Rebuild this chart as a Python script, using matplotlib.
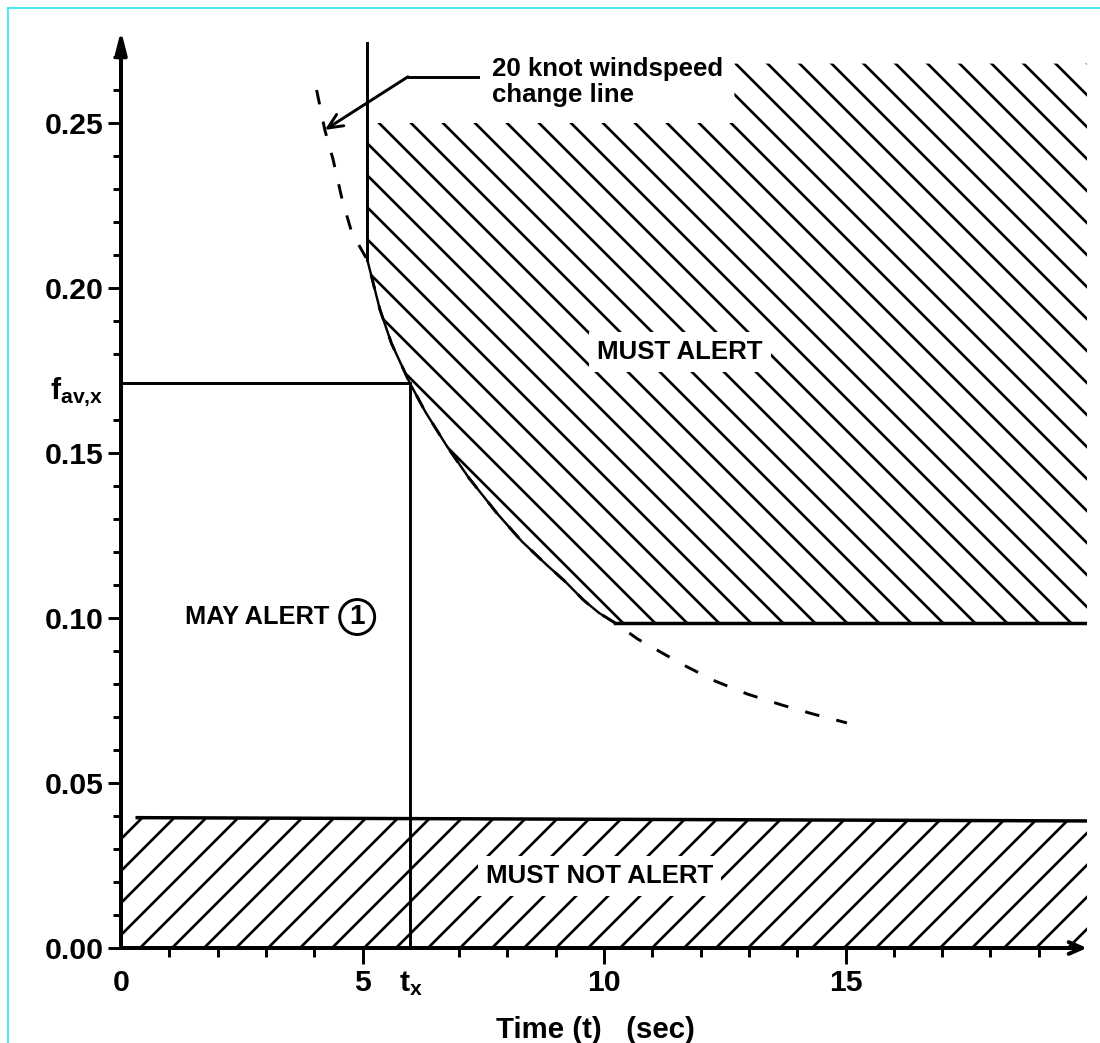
import matplotlib
matplotlib.use("Agg")
import matplotlib.pyplot as plt
from matplotlib.patches import Polygon
from matplotlib.lines import Line2D
from matplotlib.ticker import FixedLocator

# ---------------- data ----------------
x_max = 20.0
y_max = 0.278

# x ticks
x_major = [0, 5, 6, 10, 15]
x_major_labels = ["0", "5", r"$\mathrm{t}_{\mathrm{x}}$", "10", "15"]
x_minor = [1, 2, 3, 4, 6, 7, 8, 9, 11, 12, 13, 14, 16, 17, 18, 19]

# y ticks
y_major = [0.00, 0.05, 0.10, 0.15, 0.17, 0.20, 0.25]
y_major_labels = ["0.00", "0.05", "0.10", "0.15", r"$\mathrm{f}_{\mathrm{av{,}x}}$", "0.20", "0.25"]
y_minor = [0.01, 0.02, 0.03, 0.04, 0.06, 0.07, 0.08, 0.09, 0.11, 0.12, 0.13, 0.14,
           0.16, 0.17, 0.18, 0.19, 0.21, 0.22, 0.23, 0.24, 0.26, 0.27]

# chosen example point
t_x = 5.98
f_avx = 0.1712

# must-alert lower boundary (curve then flat)
ma_curve_t = [5.10, 5.36, 5.60, 5.98, 6.30, 6.75, 7.20, 7.78, 8.30, 8.82, 9.20, 9.57, 9.90, 10.23]
ma_curve_f = [0.2085, 0.1935, 0.1832, 0.1712, 0.1625, 0.1520, 0.1425, 0.1318, 0.1232, 0.1160,
              0.1110, 0.1055, 0.1015, 0.0985]
ma_flat_t = [10.23, 20.0]
ma_flat_f = [0.0985, 0.0985]
ma_vert_t = [5.10, 5.10]
ma_vert_f = [0.2085, 0.2742]
# top of the hatched must-alert area
ma_top_t = [5.10, 12.7, 12.7, 20.0]
ma_top_f = [0.250, 0.250, 0.268, 0.268]

# 20 knot windspeed change line (dashed)
ws_t = [4.05, 4.22, 4.39, 4.58, 4.78, 5.10, 5.36, 5.60, 5.98, 6.30, 6.75, 7.20, 7.78, 8.30,
        8.82, 9.20, 9.57, 9.90, 10.23, 10.70, 11.64, 12.30, 12.96, 13.69, 14.33, 15.03]
ws_f = [0.2600, 0.2479, 0.2390, 0.2267, 0.2167, 0.2085, 0.1935, 0.1832, 0.1712, 0.1625,
        0.1520, 0.1425, 0.1318, 0.1232, 0.1160, 0.1110, 0.1055, 0.1015, 0.0985, 0.0936,
        0.0858, 0.0809, 0.0770, 0.0736, 0.0709, 0.0682]

# must-not-alert band
nal_t = [0.0, 0.3, 20.0]
nal_top = [0.036, 0.0395, 0.0385]

# annotation leader for the windspeed line
lead_t = [7.39, 5.94, 4.22]
lead_f = [0.2640, 0.2640, 0.2479]

# ---------------- style ----------------
DPI = 192
plt.rcParams["font.family"] = ["Liberation Sans", "DejaVu Sans"]
plt.rcParams["font.weight"] = "bold"
plt.rcParams["hatch.linewidth"] = 1.0
plt.rcParams["mathtext.fontset"] = "custom"
plt.rcParams["mathtext.rm"] = "Liberation Sans:bold"
plt.rcParams["mathtext.it"] = "Liberation Sans:bold"
plt.rcParams["mathtext.bf"] = "Liberation Sans:bold"

W, H = 1100, 1043
fig = plt.figure(figsize=(W / DPI, H / DPI), dpi=DPI)
fig.patch.set_facecolor("white")
x0_px, y0_px = 121, 948
ax = fig.add_axes([x0_px / W, (H - y0_px) / H, 966 / W, (y_max * 3300) / H])
ax.set_xlim(0, x_max)
ax.set_ylim(0, y_max)
for s in ax.spines.values():
    s.set_visible(False)
ax.patch.set_alpha(0)

# axes with arrows
ax.annotate("", xy=(0, y_max), xytext=(0, 0),
            arrowprops=dict(arrowstyle="-|>,head_length=0.7,head_width=0.18", lw=1.5,
                            color="black", shrinkA=0, shrinkB=0), annotation_clip=False)
ax.annotate("", xy=(x_max, 0), xytext=(0, 0),
            arrowprops=dict(arrowstyle="->,head_length=0.5,head_width=0.22", lw=1.5,
                            color="black", shrinkA=0, shrinkB=0), annotation_clip=False)

# ticks
ax.xaxis.set_major_locator(FixedLocator(x_major))
ax.xaxis.set_minor_locator(FixedLocator(x_minor))
ax.set_xticklabels(x_major_labels)
ax.yaxis.set_major_locator(FixedLocator(y_major))
ax.yaxis.set_minor_locator(FixedLocator(y_minor))
ax.set_yticklabels(y_major_labels)
ax.tick_params(axis="x", which="major", length=6, width=1.1, pad=2, labelsize=11.3)
ax.tick_params(axis="x", which="minor", length=3.3, width=1.1)
ax.tick_params(axis="y", which="major", length=5, width=1.1, pad=1.5, labelsize=11.3)
ax.tick_params(axis="y", which="minor", length=3, width=1.1)
for i, v in enumerate(x_major):
    if v in (0, 6):
        ax.xaxis.get_major_ticks()[i].tick1line.set_visible(False)
for i, v in enumerate(y_major):
    if v == 0.17:
        ax.yaxis.get_major_ticks()[i].tick1line.set_visible(False)
for lab in ax.get_xticklabels() + ax.get_yticklabels():
    lab.set_fontweight("bold")

# must-not-alert hatched band
band = Polygon(list(zip([0.0, 20.0] + nal_t[::-1], [0.0, 0.0] + nal_top[::-1])),
               closed=True, facecolor="none", edgecolor="black", lw=0, hatch="//")
ax.add_patch(band)
ax.plot(nal_t[1:], nal_top[1:], color="black", lw=1.3, solid_capstyle="butt")

# must-alert hatched area
poly_t = ma_top_t + ma_flat_t[::-1] + ma_curve_t[::-1]
poly_f = ma_top_f + ma_flat_f[::-1] + ma_curve_f[::-1]
ma = Polygon(list(zip(poly_t, poly_f)), closed=True, facecolor="none",
             edgecolor="black", lw=0, hatch="\\\\")
ax.add_patch(ma)

# windspeed change line (dashed)
ax.plot(ws_t, ws_f, color="black", lw=1.1, linestyle=(0, (5, 6)))

# boundaries
ax.plot(ma_curve_t, ma_curve_f, color="black", lw=0.9)
ax.plot(ma_flat_t, ma_flat_f, color="black", lw=1.3)
ax.plot(ma_vert_t, ma_vert_f, color="black", lw=1.1)

# example point lines
ax.plot([0, t_x], [f_avx, f_avx], color="black", lw=1.1)
ax.plot([t_x, t_x], [0, f_avx], color="black", lw=1.1)

# labels
ax.text(2.82, 0.1003, "MAY ALERT", ha="center", va="center", fontsize=9.5, fontweight="bold")
ax.text(4.89, 0.1003, "1", ha="center", va="center", fontsize=10.5, fontweight="bold",
        bbox=dict(boxstyle="circle,pad=0.16", fc="none", ec="black", lw=1.1))
ax.text(11.57, 0.1806, "MUST ALERT", ha="center", va="center", fontsize=9.7, fontweight="bold",
        bbox=dict(fc="white", ec="none", pad=3))
ax.text(9.9, 0.0218, "MUST NOT ALERT", ha="center", va="center", fontsize=9.7,
        fontweight="bold", bbox=dict(fc="white", ec="none", pad=3))

# windspeed annotation
ax.text(7.68, 0.2700, "20 knot windspeed\nchange line", ha="left", va="top",
        fontsize=9.7, fontweight="bold", linespacing=1.12)
ax.plot(lead_t[:2], lead_f[:2], color="black", lw=1.1)
ax.annotate("", xy=(lead_t[2], lead_f[2]), xytext=(lead_t[1], lead_f[1]),
            arrowprops=dict(arrowstyle="->,head_length=0.55,head_width=0.25", lw=1.1,
                            color="black", shrinkA=0, shrinkB=0))

fig.text(595 / W, 13 / H, "Time (t)   (sec)", ha="center", va="center",
         fontsize=11, fontweight="bold")

# cyan frame on top and left
fig.add_artist(Line2D([8 / W, 1], [1 - 8 / H, 1 - 8 / H], color="#22e8f0", lw=0.6,
                      transform=fig.transFigure))
fig.add_artist(Line2D([8 / W, 8 / W], [0, 1 - 8 / H], color="#22e8f0", lw=0.6,
                      transform=fig.transFigure))

fig.savefig("out.png", dpi=DPI, facecolor="white")
